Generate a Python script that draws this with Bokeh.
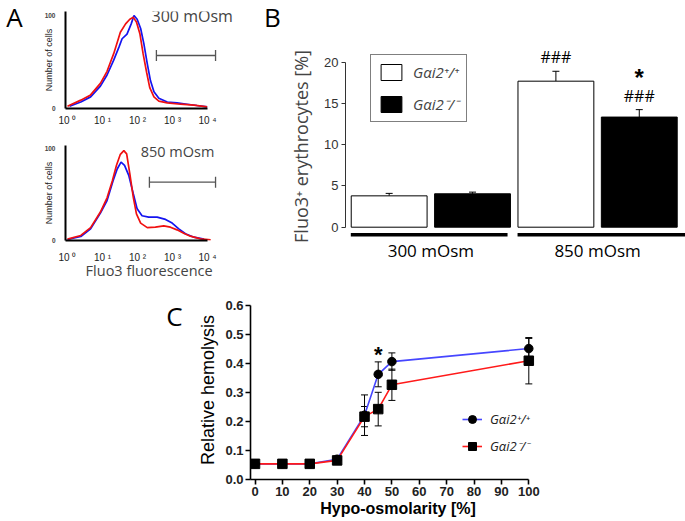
from bokeh.plotting import figure
from bokeh.models import (Range1d, Label, Legend, LegendItem, Whisker, TeeHead,
                          ColumnDataSource, FixedTicker, PrintfTickFormatter)
from bokeh.layouts import row, column
from bokeh.embed import file_html
from bokeh.resources import INLINE
from bokeh.core.properties import value

# ---------------- data ----------------
# Panel A: flow-cytometry histograms, x = log10(Fluo3 fluorescence), y = cell count (% of max)
a300_blue_x = [0.06, 0.38, 0.66, 0.94, 1.13, 1.32, 1.47, 1.56, 1.70, 1.82, 1.90, 1.99, 2.09, 2.18,
               2.28, 2.37, 2.47, 2.61, 2.85, 3.13, 3.42, 3.70, 3.99]
a300_blue_y = [2.5, 7, 12.5, 24, 36, 52, 66, 75, 80, 91, 100, 96, 86, 70,
               48, 30, 18, 11, 7, 6, 4.6, 3.2, 1.8]
a300_red_x = [0.0, 0.38, 0.66, 0.94, 1.13, 1.32, 1.42, 1.51, 1.66, 1.78, 1.88, 1.97, 2.07, 2.16,
              2.26, 2.35, 2.47, 2.61, 2.85, 3.23, 3.61, 3.99]
a300_red_y = [2.5, 9, 14.6, 27, 40, 59, 71, 82, 91, 96, 98, 93, 80, 59,
              39, 22.5, 12.5, 8, 6, 4.6, 3.6, 1.8]
a850_blue_x = [0.0, 0.38, 0.66, 0.94, 1.13, 1.30, 1.42, 1.53, 1.63, 1.75, 1.88, 1.99, 2.13, 2.32,
               2.56, 2.80, 2.99, 3.18, 3.37, 3.61, 3.90]
a850_blue_y = [1.1, 4.4, 12.7, 30, 43.6, 65, 78, 85.5, 82, 71, 51, 34.5, 27, 25.5,
               25.5, 23, 19, 12.7, 7.3, 3.6, 1.5]
a850_red_x = [0.0, 0.38, 0.66, 0.94, 1.13, 1.28, 1.40, 1.51, 1.61, 1.69, 1.78, 1.88, 1.97, 2.09,
              2.28, 2.51, 2.75, 2.94, 3.13, 3.32, 3.51, 3.80, 4.09]
a850_red_y = [1.5, 5.5, 14, 31, 46.5, 65, 82, 94, 98, 94.5, 73, 47, 29, 19,
              14, 14.5, 16, 14.5, 11.6, 8, 4.7, 1.8, 0.7]
hist_ticks = [0, 1, 2, 3, 4]
hist_tick_labels = ["10 \u2070", "10 \u00b9", "10 \u00b2", "10 \u00b3", "10 \u2074"]
gate_300 = [2.54, 4.23]
gate_850 = [2.34, 4.23]

# Panel B: Fluo3+ erythrocytes [%]
b_groups = ["300 mOsm", "850 mOsm"]
b_wt_label = "G\u03b1i2\u207a/\u207a"
b_ko_label = "G\u03b1i2\u207b/\u207b"
b_wt_mean = [3.8, 17.7]
b_wt_err = [0.3, 1.2]
b_ko_mean = [4.05, 13.35]
b_ko_err = [0.2, 0.9]
b_wt_sig = ["", "###"]
b_ko_sig = ["", "###"]
b_ko_star = ["", "*"]
b_ticks = [0, 5, 10, 15, 20]

# Panel C: relative hemolysis vs hypo-osmolarity
c_x = [0, 10, 20, 30, 40, 45, 50, 100]
c_wt = [0.054, 0.054, 0.054, 0.070, 0.222, 0.363, 0.407, 0.452]
c_wt_err = [0.004, 0.004, 0.004, 0.006, 0.070, 0.043, 0.030, 0.035]
c_ko = [0.054, 0.054, 0.054, 0.066, 0.217, 0.243, 0.327, 0.410]
c_ko_err = [0.004, 0.004, 0.004, 0.006, 0.035, 0.058, 0.054, 0.080]
c_star = ["", "", "", "", "", "*", "", ""]
c_xticks = [0, 10, 20, 30, 40, 50, 60, 70, 80, 90, 100]
c_yticks = [0.0, 0.1, 0.2, 0.3, 0.4, 0.5, 0.6]

panel_letters = ["A", "B", "C"]

# ---------------- helpers ----------------
def make_fig(box, frame, xr, yr):
    x0, y0, x1, y1 = box
    fx0, fy0, fx1, fy1 = frame
    p = figure(width=x1 - x0, height=y1 - y0,
               x_range=Range1d(*xr), y_range=Range1d(*yr),
               min_border_left=fx0 - x0, min_border_right=x1 - fx1,
               min_border_top=fy0 - y0, min_border_bottom=y1 - fy1,
               output_backend="svg", toolbar_location=None)
    p.outline_line_color = None
    p.grid.visible = False
    p.background_fill_color = "white"
    p.border_fill_color = "white"
    return p


def letter_fig(box, rx, ry, text):
    # axis-free canvas whose data range is its own pixel grid (y downwards);
    # (rx, ry) = centre of the letter in page pixels
    x0, y0, x1, y1 = box
    w, h = x1 - x0, y1 - y0
    p = figure(width=w, height=h, x_range=Range1d(0, w), y_range=Range1d(h, 0),
               x_axis_type=None, y_axis_type=None, min_border=0, title=None,
               output_backend="svg", toolbar_location=None)
    try:
        p.frame_align = False   # do not align this frame with the neighbouring plots
    except Exception:
        pass
    p.outline_line_color = None
    p.grid.visible = False
    p.text(x=[rx - x0], y=[ry - y0], text=[text], text_font=value("Open Sans"),
           text_font_size=value("26px"), text_align="center", text_baseline="middle",
           text_color="black")
    return column(p)


def rng(frame_a, frame_b, zero_px, px_per_unit, flip=False):
    if flip:  # vertical: pixel grows downwards
        return ((zero_px - frame_b) / px_per_unit, (zero_px - frame_a) / px_per_unit)
    return ((frame_a - zero_px) / px_per_unit, (frame_b - zero_px) / px_per_unit)


def lab(p, frame, rx, ry, text, **kw):
    p.add_layout(Label(x=rx - frame[0], y=frame[3] - ry, x_units="screen", y_units="screen",
                       text=text, **kw))

# ---------------- Panel A ----------------
def hist_panel(box, frame, zero_y, ppu_y, bx, by, rx, ry, gate, gate_y, title, title_pos,
               title_size, tick_standoff):
    xr = rng(frame[0], frame[2], 67, 35)
    yr = rng(frame[1], frame[3], zero_y, ppu_y, flip=True)
    p = make_fig(box, frame, xr, yr)
    p.line(bx, by, line_color="#1414f0", line_width=1.7)
    p.line(rx, ry, line_color="#f01010", line_width=1.7)
    p.segment(x0=[gate[0]], x1=[gate[1]], y0=[gate_y], y1=[gate_y], line_color="#555555", line_width=1.3)
    p.segment(x0=gate, x1=gate, y0=[gate_y - 6] * 2, y1=[gate_y + 6] * 2, line_color="#555555", line_width=1.3)
    for ax in (p.xaxis, p.yaxis):
        ax.axis_line_width = 2
        ax.axis_line_color = "black"
        ax.major_tick_out = 0
        ax.major_tick_in = 0
        ax.minor_tick_line_color = None
    p.xaxis.ticker = FixedTicker(ticks=hist_ticks)
    p.xaxis.bounds = (xr[0], 4.0)
    p.xaxis.major_label_overrides = dict(zip(hist_ticks, hist_tick_labels))
    p.xaxis.major_label_text_font = "Liberation Sans"
    p.xaxis.major_label_text_font_size = "10px"
    p.xaxis.major_label_text_color = "#222222"
    p.xaxis.major_label_standoff = tick_standoff
    p.yaxis.ticker = FixedTicker(ticks=[0, 100])
    p.yaxis.major_label_text_font = "Liberation Sans"
    p.yaxis.major_label_text_font_size = "6.5px"
    p.yaxis.major_label_text_font_style = "bold"
    p.yaxis.major_label_standoff = 10
    p.yaxis.axis_label = "Number of cells"
    p.yaxis.axis_label_text_font = "Liberation Sans"
    p.yaxis.axis_label_text_font_size = "9px"
    p.yaxis.axis_label_text_font_style = "normal"
    p.yaxis.axis_label_text_color = "#222222"
    p.yaxis.axis_label_standoff = -12
    lab(p, frame, title_pos[0], title_pos[1], title, text_font="Open Sans",
        text_font_size=title_size, text_align="center", text_baseline="middle")
    return p

a1 = hist_panel((28, 0, 240, 128), (65, 11, 236, 108), 108, 0.93, a300_blue_x, a300_blue_y,
                a300_red_x, a300_red_y, gate_300, 57, "300 mOsm", (191.7, 15), "16px", 6)
a2 = hist_panel((28, 128, 240, 290), (65, 145, 236, 240), 240, 0.917, a850_blue_x, a850_blue_y,
                a850_red_x, a850_red_y, gate_850, 63.6, "850 mOsm", (177, 150.5), "14.5px", 11)
a2.xaxis.axis_label = "Fluo3  fluorescence"
a2.xaxis.axis_label_text_font = "Open Sans"
a2.xaxis.axis_label_text_font_size = "14.5px"
a2.xaxis.axis_label_text_font_style = "normal"
a2.xaxis.axis_label_standoff = -5

# ---------------- Panel B ----------------
b_frame = (340, 30, 685, 262)
b = make_fig((286, 0, 685, 290), b_frame, rng(340, 685, 384.3, 84.6), rng(30, 262, 226.7, 8.25, flip=True))
wt_x = [2 * g for g in range(len(b_groups))]
ko_x = [2 * g + 1 for g in range(len(b_groups))]
r_wt = b.vbar(x=wt_x, top=b_wt_mean, width=0.91, fill_color="white", line_color="black", line_width=1)
r_ko = b.vbar(x=ko_x, top=b_ko_mean, width=0.91, fill_color="black", line_color="black", line_width=1)
for xs, m, e in ((wt_x, b_wt_mean, b_wt_err), (ko_x, b_ko_mean, b_ko_err)):
    src = ColumnDataSource(dict(x=xs, lower=m, upper=[a + c for a, c in zip(m, e)]))
    b.add_layout(Whisker(base="x", lower="lower", upper="upper", source=src, dimension="height",
                         line_color="black", line_width=1, lower_head=None,
                         upper_head=TeeHead(size=7, line_color="black", line_width=1)))
sig_x, sig_y, sig_t = [], [], []
for xs, m, e, s in ((wt_x, b_wt_mean, b_wt_err, b_wt_sig), (ko_x, b_ko_mean, b_ko_err, b_ko_sig)):
    for xx, mm, ee, ss in zip(xs, m, e, s):
        if ss:
            sig_x.append(xx); sig_y.append(mm + ee + 1.7); sig_t.append(ss)
b.text(x=sig_x, y=sig_y, text=sig_t, text_font=value("Open Sans"), text_font_size=value("16px"),
       text_align="center", text_baseline="middle", text_color="black")
st_x = [xx for xx, s in zip(ko_x, b_ko_star) if s]
st_y = [mm + ee + 3.9 for mm, ee, s in zip(b_ko_mean, b_ko_err, b_ko_star) if s]
b.text(x=st_x, y=st_y, text=[s for s in b_ko_star if s], text_font=value("Liberation Sans"),
       text_font_size=value("24px"), text_font_style="bold", text_align="center", text_baseline="middle")
# group underline + labels
gx0 = [2 * g - 0.46 for g in range(len(b_groups))]
gx1 = [2 * g + 1.42 for g in range(len(b_groups))]
gx1[-1] = 2 * (len(b_groups) - 1) + 1.55
b.segment(x0=gx0, x1=gx1, y0=[-0.92] * 2, y1=[-0.92] * 2, line_color="black", line_width=3.5)
b.text(x=[2 * g + 0.5 for g in range(len(b_groups))], y=[-2.8] * 2, text=b_groups,
       text_font=value("Open Sans"), text_font_size=value("17px"), text_align="center",
       text_baseline="middle", text_color="black")
b.xaxis.visible = False
b.yaxis.ticker = FixedTicker(ticks=b_ticks)
b.yaxis.bounds = (0, 20)
b.yaxis.axis_line_color = "#333333"
b.yaxis.major_tick_line_color = "#333333"
b.yaxis.major_tick_out = 4
b.yaxis.major_tick_in = 0
b.yaxis.minor_tick_line_color = None
b.yaxis.major_label_standoff = 3
b.yaxis.major_label_text_font = "Liberation Sans"
b.yaxis.major_label_text_font_size = "13px"
b.yaxis.major_label_text_color = "#333333"
b.yaxis.axis_label = "Fluo3\u207a erythrocytes [%]"
b.yaxis.axis_label_text_font = "Open Sans"
b.yaxis.axis_label_text_font_size = "18px"
b.yaxis.axis_label_text_font_style = "normal"
b.yaxis.axis_label_standoff = 8
leg_b = Legend(items=[LegendItem(label=b_wt_label, renderers=[r_wt]),
                      LegendItem(label=b_ko_label, renderers=[r_ko])],
               location=(25, 140), glyph_width=26, glyph_height=20, padding=7, spacing=12,
               label_standoff=9, label_text_font="Open Sans", label_text_font_style="italic",
               label_text_font_size="15px", border_line_color="black", border_line_width=1,
               background_fill_color="white", background_fill_alpha=1, margin=0)
b.add_layout(leg_b)

# ---------------- Panel C ----------------
c_frame = (250, 300, 545, 479)
c = make_fig((188, 290, 685, 521), c_frame, rng(250, 545, 254.5, 2.738), rng(300, 479, 479, 289.7, flip=True))
wt_line = c.line(c_x, c_wt, line_color="#4646ff", line_width=1.6)
ko_line = c.line(c_x, c_ko, line_color="#ff1a1a", line_width=1.6)
for m, e in ((c_wt, c_wt_err), (c_ko, c_ko_err)):
    src = ColumnDataSource(dict(x=c_x, lower=[a - d for a, d in zip(m, e)], upper=[a + d for a, d in zip(m, e)]))
    c.add_layout(Whisker(base="x", lower="lower", upper="upper", source=src, dimension="height",
                         line_color="black", line_width=1,
                         lower_head=TeeHead(size=7, line_color="black", line_width=1),
                         upper_head=TeeHead(size=7, line_color="black", line_width=1)))
wt_pts = c.scatter(c_x, c_wt, marker="circle", size=8.5, fill_color="black", line_color="black")
ko_pts = c.scatter(c_x, c_ko, marker="square", size=9.5, fill_color="black", line_color="black")
cs_x = [xx for xx, s in zip(c_x, c_star) if s]
cs_y = [mm + ee + 0.025 for mm, ee, s in zip(c_wt, c_wt_err, c_star) if s]
c.text(x=cs_x, y=cs_y, text=[s for s in c_star if s], text_font=value("Liberation Sans"),
       text_font_size=value("22px"), text_font_style="bold", text_align="center", text_baseline="middle")
for ax in (c.xaxis, c.yaxis):
    ax.axis_line_width = 1.6
    ax.axis_line_color = "black"
    ax.major_tick_line_width = 1.6
    ax.major_tick_out = 5
    ax.major_tick_in = 0
    ax.minor_tick_line_color = None
    ax.major_label_text_font = "Liberation Sans"
    ax.major_label_text_font_style = "bold"
    ax.major_label_text_font_size = "13px"
    ax.major_label_text_color = "#222222"
    ax.major_label_standoff = 2
    ax.axis_label_text_font = "Liberation Sans"
    ax.axis_label_text_color = "black"
c.xaxis.ticker = FixedTicker(ticks=c_xticks)
c.xaxis.bounds = (c.x_range.start, 100)
c.yaxis.ticker = FixedTicker(ticks=c_yticks)
c.yaxis.formatter = PrintfTickFormatter(format="%.1f")
c.yaxis.bounds = (0, 0.6)
c.yaxis.axis_label = "Relative hemolysis"
c.yaxis.axis_label_text_font_size = "18px"
c.yaxis.axis_label_text_font_style = "normal"
c.yaxis.axis_label_standoff = 4
c.xaxis.axis_label = "Hypo-osmolarity [%]"
c.xaxis.axis_label_text_font_size = "16px"
c.xaxis.axis_label_text_font_style = "bold"
c.xaxis.axis_label_standoff = 1
leg_c = Legend(items=[LegendItem(label=b_wt_label, renderers=[wt_line, wt_pts]),
                      LegendItem(label=b_ko_label, renderers=[ko_line, ko_pts])],
               location=(212, 22), glyph_width=20, glyph_height=22, label_height=22, padding=0,
               spacing=5, label_standoff=8, label_text_font="Open Sans", label_text_font_style="italic",
               label_text_font_size="13px", label_text_color="#222222",
               border_line_color=None, background_fill_alpha=0, margin=0)
c.add_layout(leg_c)

# ---------------- panel letters (centre positions) ----------------
letter_a = letter_fig((0, 0, 28, 290), 14, 16, panel_letters[0])
letter_b = letter_fig((240, 0, 286, 290), 272, 16, panel_letters[1])
letter_c = letter_fig((0, 290, 188, 521), 174, 315, panel_letters[2])

layout = column(row(letter_a, column(a1, a2), letter_b, b), row(letter_c, c))
open("out.html", "w").write(file_html(layout, INLINE))
